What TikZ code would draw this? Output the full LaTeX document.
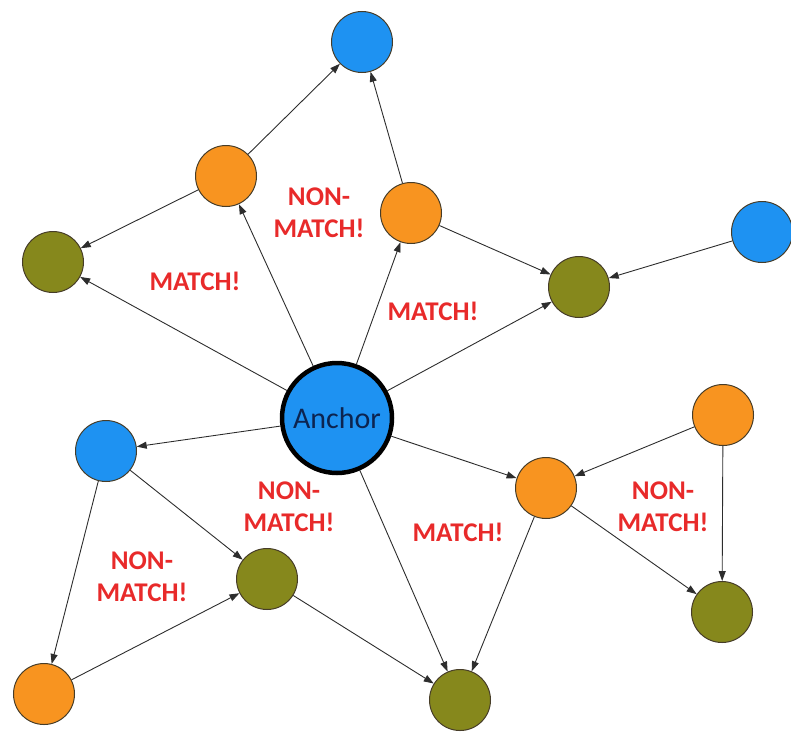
\documentclass[tikz,border=0pt]{standalone}
\usepackage{fontspec}
\setmainfont{Carlito}
\usetikzlibrary{arrows.meta}
\definecolor{cblue}{RGB}{30,146,242}
\definecolor{corange}{RGB}{248,148,32}
\definecolor{colive}{RGB}{134,136,28}
\definecolor{dotline}{RGB}{70,60,40}
\definecolor{linkc}{RGB}{45,45,45}
\definecolor{labred}{RGB}{232,42,42}
\definecolor{navy}{RGB}{12,36,80}
\begin{document}
\begin{tikzpicture}[x=1pt,y=-1pt,
  dot/.style={circle,minimum size=61pt,inner sep=0pt,draw=dotline,line width=1pt},
  bluedot/.style={dot,fill=cblue},
  orangedot/.style={dot,fill=corange},
  olivedot/.style={dot,fill=colive},
  anchorbox/.style={circle,minimum size=110pt,inner sep=0pt,draw=black,line width=4.5pt,fill=cblue,text=navy,font=\fontsize{30}{36}\selectfont},
  link/.style={draw=linkc,line width=0.9pt,-{Triangle[length=10pt,width=7pt]}},
  lab/.style={text=labred,font=\fontsize{27}{32}\selectfont\bfseries,align=center,inner sep=0pt}]
\useasboundingbox (0,0) rectangle (791,736);
% nodes
\node[anchorbox] (anc) at (337,418) {Anchor};
\node[bluedot] (btop) at (362,42) {};
\node[orangedot] (otl) at (226,176) {};
\node[olivedot] (gl) at (53,262) {};
\node[orangedot] (om) at (411,213) {};
\node[olivedot] (gr) at (579,287) {};
\node[bluedot] (br) at (762,232) {};
\node[bluedot] (bl) at (106,451) {};
\node[olivedot] (gml) at (267,579) {};
\node[orangedot] (obl) at (44,694) {};
\node[olivedot] (gb) at (460,700) {};
\node[orangedot] (orm) at (546,488) {};
\node[orangedot] (ofr) at (723,415) {};
\node[olivedot] (gfr) at (722,612) {};
% labels
\node[lab] (l1) at (319,213) {NON-\\MATCH!};
\node[lab] (l2) at (195,281) {MATCH!};
\node[lab] (l3) at (433,311) {MATCH!};
\node[lab] (l4) at (289,507) {NON-\\MATCH!};
\node[lab] (l5) at (458,532) {MATCH!};
\node[lab] (l6) at (142,577) {NON-\\MATCH!};
\node[lab] (l7) at (663,507) {NON-\\MATCH!};
% edges
\draw[link] (anc) -- (otl);
\draw[link] (anc) -- (gl);
\draw[link] (anc) -- (om);
\draw[link] (anc) -- (gr);
\draw[link] (anc) -- (bl);
\draw[link] (anc) -- (orm);
\draw[link] (anc) -- (gb);
\draw[link] (otl) -- (btop);
\draw[link] (otl) -- (gl);
\draw[link] (om) -- (btop);
\draw[link] (om) -- (gr);
\draw[link] (br) -- (gr);
\draw[link] (bl) -- (gml);
\draw[link] (bl) -- (obl);
\draw[link] (obl) -- (gml);
\draw[link] (gml) -- (gb);
\draw[link] (orm) -- (gb);
\draw[link] (orm) -- (gfr);
\draw[link] (ofr) -- (orm);
\draw[link] (ofr) -- (gfr);
\end{tikzpicture}
\end{document}
